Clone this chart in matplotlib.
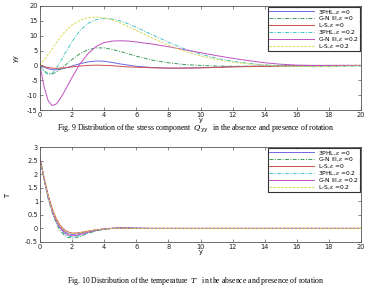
import matplotlib
matplotlib.use("Agg")
import matplotlib.pyplot as plt
import numpy as np

# ---------------- data ----------------
x_q = [0, 0.25, 0.5, 0.75, 1.0, 1.25, 1.5, 2.0, 2.5, 3.0, 3.5, 4.0, 4.5, 5.0, 5.5, 6.0,
       7.0, 8.0, 9.0, 10.0, 11.0, 12.0, 13.0, 14.0, 15.0, 16.0, 17.0, 18.0, 19.0, 20.0]
q_3phl_0 = [0, -0.6, -1.1, -1.4, -1.5, -1.3, -1.0, -0.2, 0.6, 1.2, 1.5, 1.4, 1.0, 0.5, 0.1, -0.3,
            -0.7, -0.9, -0.9, -0.8, -0.6, -0.4, -0.3, -0.2, -0.1, 0, 0, 0, 0, 0]
q_gn_0 = [0, -1.8, -2.8, -2.9, -2.3, -1.3, -0.2, 2.0, 4.0, 5.3, 5.9, 5.9, 5.4, 4.7, 3.9, 3.1,
          1.8, 0.9, 0.3, 0, -0.2, -0.3, -0.3, -0.3, -0.2, -0.2, -0.1, -0.1, 0, 0]
q_ls_0 = [0, -0.4, -0.7, -0.9, -1.0, -0.9, -0.8, -0.5, -0.2, 0, 0.1, 0, -0.1, -0.3, -0.5, -0.6,
          -0.8, -0.9, -0.9, -0.8, -0.7, -0.5, -0.4, -0.3, -0.2, -0.1, -0.1, 0, 0, 0]
q_3phl_2 = [0, -2.0, -3.0, -2.6, -1.2, 1.0, 3.5, 8.0, 11.8, 14.2, 15.4, 15.8, 15.6, 15.0, 14.0, 12.8,
            10.3, 7.8, 5.6, 3.8, 2.4, 1.4, 0.7, 0.2, -0.1, -0.3, -0.4, -0.4, -0.3, -0.2]
q_gn_2 = [0, -7.0, -11.8, -13.5, -13.0, -11.3, -9.0, -4.0, 0.6, 4.0, 6.4, 7.7, 8.2, 8.3, 8.2, 7.9,
          7.2, 6.3, 5.3, 4.3, 3.3, 2.4, 1.6, 0.9, 0.4, 0.1, 0, 0, 0, 0]
q_ls_2 = [0, 1.8, 3.6, 5.5, 7.5, 9.3, 11.0, 13.6, 15.2, 16.1, 16.3, 16.0, 15.3, 14.3, 13.1, 11.8,
          9.2, 6.8, 4.8, 3.2, 2.0, 1.1, 0.5, 0.1, -0.2, -0.3, -0.4, -0.3, -0.2, -0.1]

x_t = [0, 0.25, 0.5, 0.75, 1.0, 1.25, 1.5, 1.75, 2.0, 2.25, 2.5, 3.0, 3.5, 4.0, 4.5, 5.0,
       5.5, 6.0, 7.0, 8.0, 10.0, 12.0, 14.0, 16.0, 18.0, 20.0]
t_3phl_0 = [2.6, 1.85, 1.2, 0.7, 0.32, 0.06, -0.1, -0.19, -0.22, -0.21, -0.18, -0.11, -0.05, -0.02, 0.0, 0.01,
            0.01, 0.0, 0, 0, 0, 0, 0, 0, 0, 0]
t_gn_0 = [2.6, 1.8, 1.12, 0.6, 0.2, -0.08, -0.24, -0.33, -0.36, -0.34, -0.29, -0.18, -0.09, -0.03, 0.0, 0.02,
          0.02, 0.01, 0, 0, 0, 0, 0, 0, 0, 0]
t_ls_0 = [2.6, 1.88, 1.25, 0.75, 0.38, 0.12, -0.04, -0.13, -0.17, -0.17, -0.15, -0.1, -0.05, -0.02, 0.0, 0.01,
          0.01, 0.0, 0, 0, 0, 0, 0, 0, 0, 0]
t_3phl_2 = [2.6, 1.82, 1.15, 0.64, 0.25, -0.02, -0.19, -0.28, -0.31, -0.3, -0.26, -0.16, -0.08, -0.03, 0.0, 0.02,
            0.02, 0.01, 0, 0, 0, 0, 0, 0, 0, 0]
t_gn_2 = [2.6, 1.84, 1.18, 0.67, 0.28, 0.02, -0.15, -0.24, -0.27, -0.26, -0.22, -0.14, -0.07, -0.02, 0.01, 0.02,
          0.02, 0.01, 0, 0, 0, 0, 0, 0, 0, 0]
t_ls_2 = [2.6, 1.87, 1.23, 0.73, 0.35, 0.09, -0.07, -0.16, -0.19, -0.19, -0.16, -0.1, -0.05, -0.02, 0.0, 0.01,
          0.01, 0.0, 0, 0, 0, 0, 0, 0, 0, 0]

labels = ["3PHL,$\\epsilon$ =0", "G-N III,$\\epsilon$ =0", "L-S,$\\epsilon$ =0",
          "3PHL,$\\epsilon$ =0.2", "G-N III,$\\epsilon$ =0.2", "L-S,$\\epsilon$ =0.2"]
colors = ["#6a6ae0", "#3c9a5a", "#d05050", "#48c4c8", "#c050c0", "#d8d850"]
styles = ["-", (0, (4, 1.5, 1, 1.5)), "-", (0, (4, 1.5, 1, 1.5)), "-", (0, (2.5, 1.5))]

x_ticks = [0, 2, 4, 6, 8, 10, 12, 14, 16, 18, 20]
q_ticks = [-15, -10, -5, 0, 5, 10, 15, 20]
t_ticks = [-0.5, 0, 0.5, 1, 1.5, 2, 2.5, 3]

# ---------------- figure ----------------
W, H = 369, 289
fig = plt.figure(figsize=(W / 100, H / 100), dpi=100)
plt.rcParams['mathtext.fontset'] = 'dejavuserif'

def ax_rect(l, t, r, b):
    return [l / W, 1 - b / H, (r - l) / W, (b - t) / H]

ax1 = fig.add_axes(ax_rect(40, 6, 361, 110))
ax2 = fig.add_axes(ax_rect(40, 147, 361, 242))

def style_axes(ax, yticks, ylim, ylabels):
    ax.set_xlim(0, 20)
    ax.set_ylim(*ylim)
    ax.set_xticks(x_ticks)
    ax.set_xticklabels([str(v) for v in x_ticks], fontsize=4.8, family="DejaVu Sans")
    ax.set_yticks(yticks)
    ax.set_yticklabels(ylabels, fontsize=4.8, family="DejaVu Sans")
    ax.tick_params(direction="in", length=2, width=0.5, top=True, right=True, pad=1.5,
                   colors="#555555", labelcolor="#222222")
    for s in ax.spines.values():
        s.set_linewidth(0.6)
        s.set_color("#555555")
    ax.set_xlabel("y", fontsize=4.8, labelpad=-1)

qseries = [q_3phl_0, q_gn_0, q_ls_0, q_3phl_2, q_gn_2, q_ls_2]
for y, c, ls, lab in zip(qseries, colors, styles, labels):
    ax1.plot(x_q, y, linestyle=ls, color=c, lw=0.7, label=lab)
style_axes(ax1, q_ticks, (-15, 20), [str(v) for v in q_ticks])
ax1.set_ylabel("yy", fontsize=4.8, labelpad=6)

tseries = [t_3phl_0, t_gn_0, t_ls_0, t_3phl_2, t_gn_2, t_ls_2]
for y, c, ls, lab in zip(tseries, colors, styles, labels):
    ax2.plot(x_t, y, linestyle=ls, color=c, lw=0.7, label=lab)
style_axes(ax2, t_ticks, (-0.5, 3), ["-0.5", "0", "0.5", "1", "1.5", "2", "2.5", "3"])
ax2.set_ylabel("T", fontsize=4.8, labelpad=10)

for ax in (ax1, ax2):
    leg = ax.legend(loc="upper right", fontsize=4.3, frameon=True, fancybox=False,
                    borderpad=0.2, labelspacing=-0.1, handlelength=7.5, handletextpad=0.6,
                    borderaxespad=0.15)
    leg.get_frame().set_edgecolor("black")
    leg.get_frame().set_linewidth(0.8)

fig.text(196 / W, 1 - 128 / H,
         "Fig. 9 Distribution of the stress component  $Q_{yy}$   in the absence and presence of rotation",
         ha="center", va="center", fontsize=5.6, family="Liberation Serif")
fig.text(196 / W, 1 - 281 / H,
         "Fig. 10 Distribution of the temperature  $T$   in the absence and presence of rotation",
         ha="center", va="center", fontsize=5.6, family="Liberation Serif")

fig.savefig("out.png", dpi=100)
